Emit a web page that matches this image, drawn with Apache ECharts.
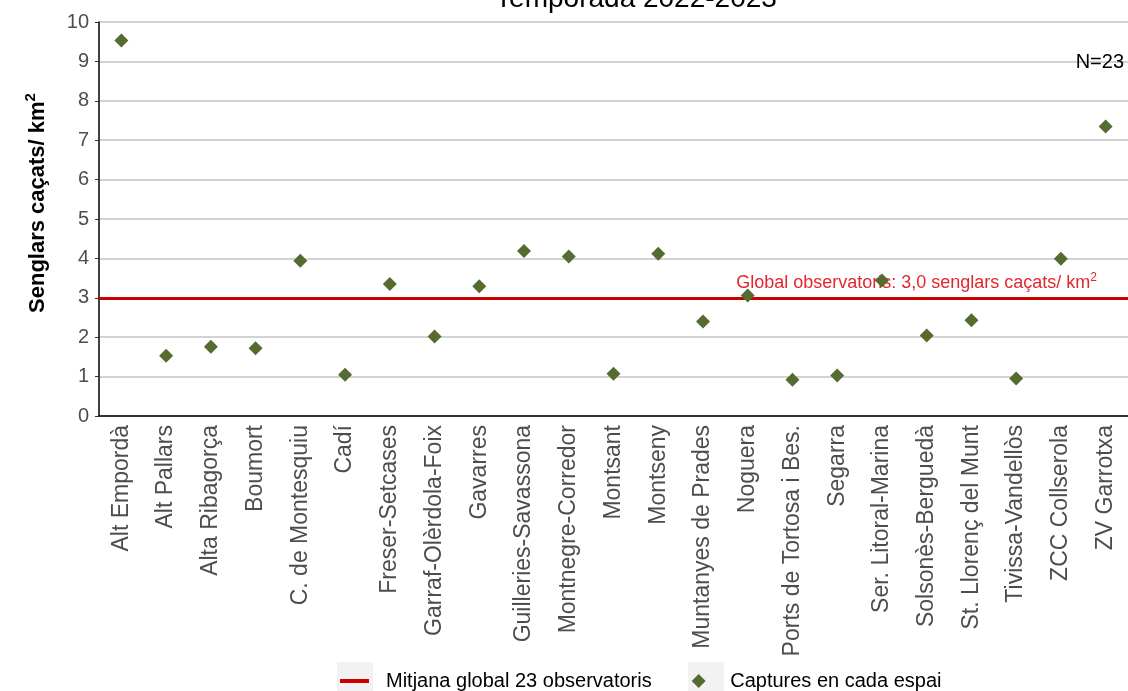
<!DOCTYPE html>
<html>
<head>
<meta charset="utf-8">
<script src="https://cdn.jsdelivr.net/npm/echarts@6/dist/echarts.min.js"></script>
<style>
  html, body { margin: 0; padding: 0; background: #fff; }
  #chart { width: 1128px; height: 691px; }
</style>
</head>
<body>
<div id="chart"></div>
<script>
// espais (observatoris)
var espais = ['Alt Empordà', 'Alt Pallars', 'Alta Ribagorça', 'Boumort', 'C. de Montesquiu', 'Cadí',
  'Freser-Setcases', 'Garraf-Olèrdola-Foix', 'Gavarres', 'Guilleries-Savassona', 'Montnegre-Corredor',
  'Montsant', 'Montseny', 'Muntanyes de Prades', 'Noguera', 'Ports de Tortosa i Bes.', 'Segarra',
  'Ser. Litoral-Marina', 'Solsonès-Berguedà', 'St. Llorenç del Munt', 'Tivissa-Vandellòs',
  'ZCC Collserola', 'ZV Garrotxa'];
// senglars caçats per km2
var captures = [9.53, 1.53, 1.76, 1.72, 3.94, 1.05, 3.35, 2.02, 3.29, 4.19, 4.05,
  1.07, 4.12, 2.40, 3.06, 0.92, 1.03, 3.44, 2.04, 2.43, 0.95, 3.99, 7.35];
var mitjanaGlobal = 3.0;
var yTicks = [0, 1, 2, 3, 4, 5, 6, 7, 8, 9, 10];

var chart = echarts.init(document.getElementById('chart'));

var option = {
  animation: false,
  textStyle: { fontFamily: 'Liberation Sans, Arial, sans-serif' },
  graphic: [
    {
      type: 'text', x: 636, y: 13, z: 10,
      style: { text: 'Temporada 2022-2023', fill: '#000', font: '28px "Liberation Sans", Arial', textAlign: 'center', textVerticalAlign: 'bottom' }
    },
    {
      type: 'text', x: 1124, y: 62, z: 10,
      style: { text: 'N=23', fill: '#000', font: '20px "Liberation Sans", Arial', textAlign: 'right', textVerticalAlign: 'middle' }
    },
    {
      type: 'text', x: 38, y: 203, rotation: Math.PI / 2, z: 10,
      style: {
        text: '{a|Senglars caçats/ km}{s|2}',
        textAlign: 'center', textVerticalAlign: 'middle',
        rich: {
          a: { fontSize: 22, fontWeight: 'bold', fill: '#000', fontFamily: 'Liberation Sans' },
          s: { fontSize: 15, fontWeight: 'bold', fill: '#000', fontFamily: 'Liberation Sans', padding: [0, 0, 14, 0] }
        }
      }
    },
    { type: 'rect', z: 0, shape: { x: 337, y: 662, width: 36, height: 40 }, style: { fill: '#f2f2f2' } },
    { type: 'rect', z: 0, shape: { x: 688, y: 662, width: 36, height: 40 }, style: { fill: '#f2f2f2' } }
  ],
  legend: {
    left: 340,
    top: 671,
    padding: 0,
    itemWidth: 29,
    itemHeight: 14,
    itemGap: 40,
    symbolKeepAspect: true,
    textStyle: { fontSize: 20, color: '#000', padding: [0, 0, 0, 12] },
    data: [
      { name: 'Mitjana global 23 observatoris', icon: 'path://M0,0h29v4h-29z' },
      { name: 'Captures en cada espai', icon: 'path://M6,0L12,6L6,12L0,6Z', itemStyle: { opacity: 1 } }
    ]
  },
  grid: { left: 99, right: 0, top: 22, bottom: 275 },
  xAxis: {
    type: 'category',
    data: espais,
    axisLine: { lineStyle: { color: '#000', width: 1.5 } },
    axisTick: { alignWithLabel: true, length: 4, lineStyle: { color: '#333' } },
    axisLabel: { interval: 0, rotate: 90, fontSize: 23, color: '#4d4d4d', margin: 9 },
    splitLine: { show: false }
  },
  yAxis: {
    type: 'value',
    min: yTicks[0],
    max: yTicks[yTicks.length - 1],
    interval: 1,
    axisLine: { show: true, lineStyle: { color: '#000', width: 1.5 } },
    axisTick: { show: true, length: 4, lineStyle: { color: '#333' } },
    axisLabel: { fontSize: 20, color: '#4d4d4d', margin: 10 },
    splitLine: { lineStyle: { color: '#c4c4c4', width: 1.5 } }
  },
  series: [
    {
      name: 'Mitjana global 23 observatoris',
      type: 'line',
      color: '#cc0000',
      data: [],
      markLine: {
        silent: true,
        symbol: 'none',
        lineStyle: { color: '#cc0000', width: 3, type: 'solid' },
        label: {
          show: true,
          position: 'insideEndTop',
          distance: [31, 4],
          formatter: '{a|Global observatoris: 3,0 senglars caçats/ km}{s|2}',
          rich: {
            a: { fontSize: 18, color: '#e3262f' },
            s: { fontSize: 12, color: '#e3262f', padding: [0, 0, 10, 0] }
          }
        },
        data: [{ yAxis: mitjanaGlobal }]
      }
    },
    {
      name: 'Captures en cada espai',
      type: 'scatter',
      symbol: 'diamond',
      symbolSize: 14,
      itemStyle: { color: '#556b2f', opacity: 1 },
      z: 5,
      data: captures
    }
  ]
};

chart.setOption(option);
</script>
</body>
</html>
